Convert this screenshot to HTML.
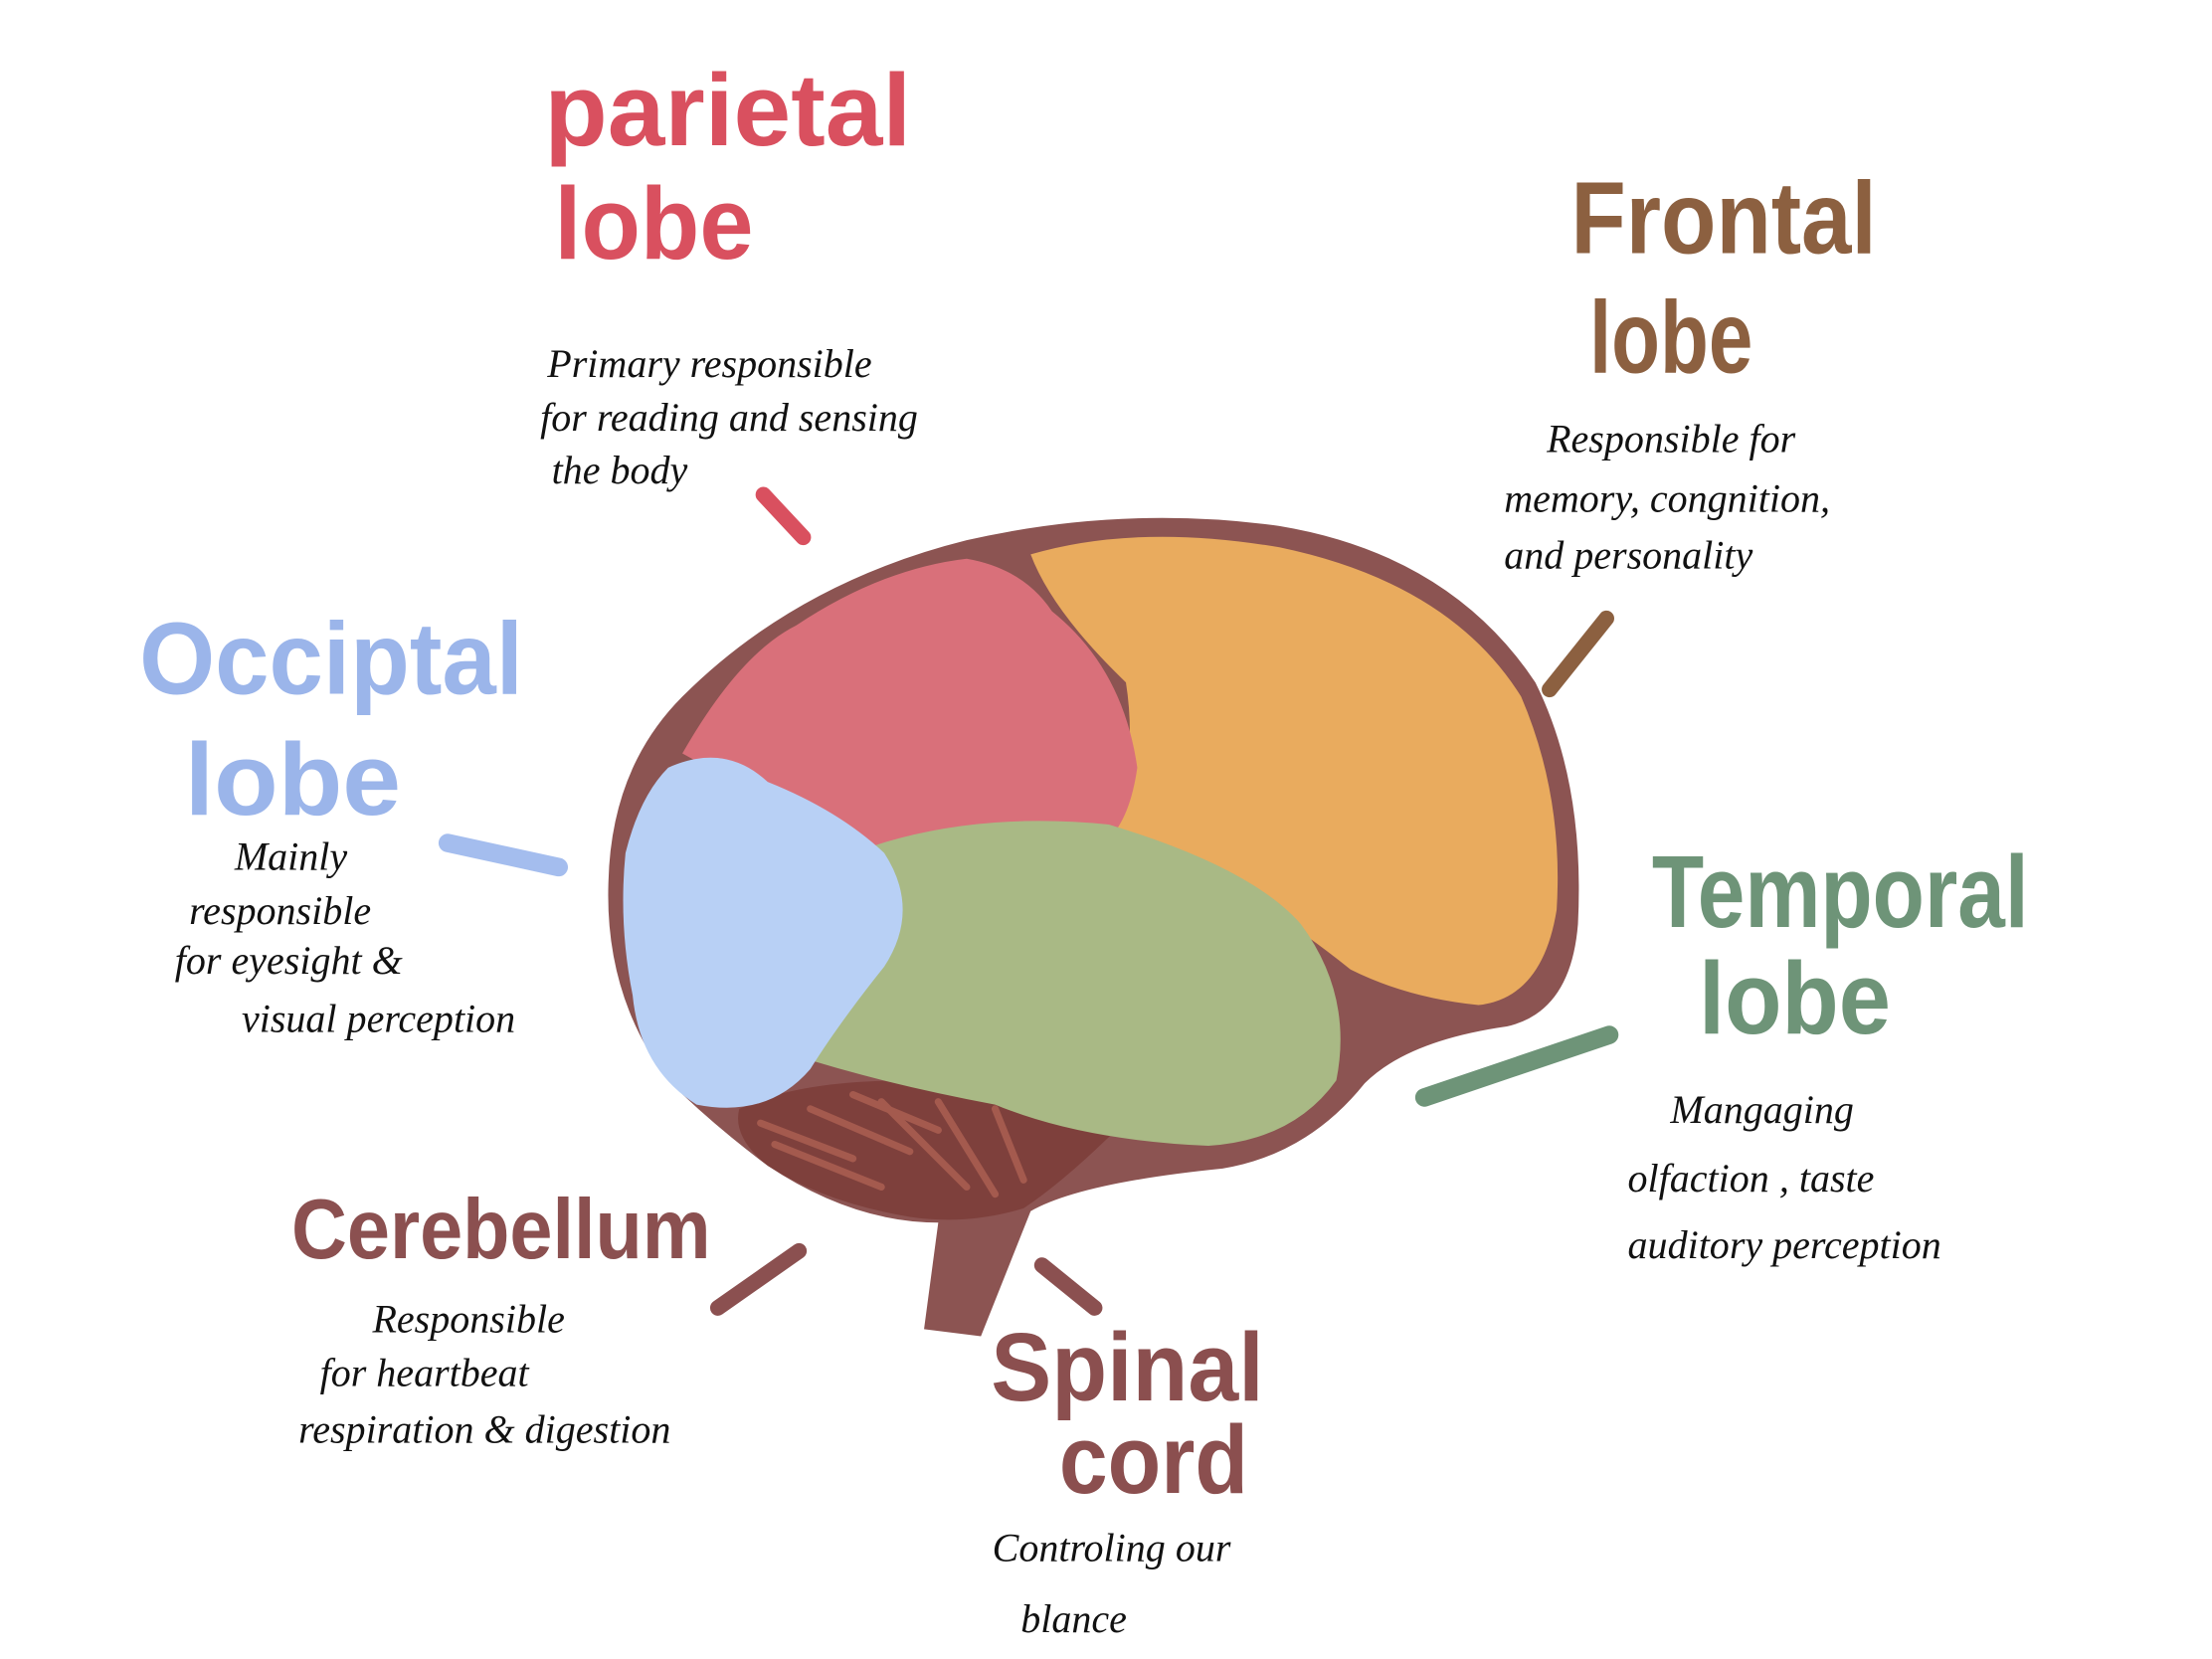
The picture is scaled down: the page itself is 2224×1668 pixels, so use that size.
<!DOCTYPE html>
<html><head><meta charset="utf-8"><style>
html,body{margin:0;padding:0;background:#fff;}
svg{display:block;}
.t{font-family:"Liberation Sans",sans-serif;font-weight:bold;}
.d{font-family:"Liberation Serif",serif;font-style:italic;font-size:28px;fill:#111;}
</style></head><body>
<svg width="2224" height="1668" viewBox="0 0 1556 1167">
<g>
<path fill="#8C5452" d="M650,935 L660,860 Q600,860 540,820 Q500,790 470,760 Q425,700 428,620 Q430,540 480,490 Q560,410 680,380 Q790,355 900,370 Q1020,390 1080,480 Q1115,550 1110,650 Q1105,712 1060,722 Q990,732 960,762 Q920,812 860,822 Q760,832 725,852 L690,940 Z"/>
<path fill="#7E403C" d="M520,780 Q560,760 640,760 Q720,770 790,790 Q750,830 720,850 Q680,862 640,856 Q580,846 540,820 Q515,800 520,780 Z"/>
<g stroke="#A45A4E" stroke-width="5" stroke-linecap="round">
<path d="M535,790 L600,815"/><path d="M545,805 L620,835"/><path d="M570,780 L640,810"/><path d="M620,775 L680,835"/><path d="M660,775 L700,840"/><path d="M700,780 L720,830"/><path d="M600,770 L660,795"/>
</g>
<path fill="#E9AB5E" d="M725,390 Q800,368 900,385 Q1020,410 1070,490 Q1100,560 1095,640 Q1085,702 1040,707 Q990,702 950,682 Q900,642 860,622 L785,587 Q800,530 792,480 Q740,430 725,390 Z"/>
<path fill="#D9707A" d="M480,530 Q520,460 560,440 Q620,400 680,393 Q720,400 740,430 Q790,470 800,540 Q795,575 780,590 Q700,588 620,597 Q570,582 520,552 Z"/>
<path fill="#A9B985" d="M600,600 Q680,570 780,580 Q880,610 915,650 Q952,700 940,760 Q910,802 850,806 Q760,802 700,777 Q620,762 558,742 Q555,700 590,670 Q640,640 600,600 Z"/>
<path fill="#B8D0F5" d="M470,540 Q510,522 540,550 Q590,570 622,600 Q648,640 622,680 Q590,720 570,752 Q540,787 490,777 Q450,752 445,700 Q435,650 440,600 Q450,560 470,540 Z"/>
</g>
<g stroke-linecap="round" fill="none">
<line x1="537" y1="348" x2="565" y2="378" stroke="#D9505F" stroke-width="11"/>
<line x1="1130" y1="435" x2="1090" y2="485" stroke="#8C6040" stroke-width="11"/>
<line x1="315" y1="593" x2="393" y2="610" stroke="#A4BDEE" stroke-width="13"/>
<line x1="1002" y1="772" x2="1132" y2="728" stroke="#6E9478" stroke-width="13"/>
<line x1="505" y1="920" x2="562" y2="880" stroke="#8B5050" stroke-width="11"/>
<line x1="733" y1="890" x2="770" y2="920" stroke="#8B5050" stroke-width="11"/>
</g>
<g>
<text class="t" x="383" y="102" font-size="72" fill="#D9505F" textLength="258" lengthAdjust="spacingAndGlyphs">parietal</text>
<text class="t" x="390" y="182" font-size="72" fill="#D9505F" textLength="140" lengthAdjust="spacingAndGlyphs">lobe</text>
<text class="d" x="385" y="265">Primary responsible</text>
<text class="d" x="380" y="303">for reading and sensing</text>
<text class="d" x="388" y="340">the body</text>
</g>
<g>
<text class="t" x="1105" y="178" font-size="72" fill="#8C6040" textLength="215" lengthAdjust="spacingAndGlyphs">Frontal</text>
<text class="t" x="1118" y="262" font-size="72" fill="#8C6040" textLength="115" lengthAdjust="spacingAndGlyphs">lobe</text>
<text class="d" x="1088" y="318">Responsible  for</text>
<text class="d" x="1058" y="360">memory, congnition,</text>
<text class="d" x="1058" y="400">and  personality</text>
</g>
<g>
<text class="t" x="98" y="488" font-size="72" fill="#9BB5EA" textLength="270" lengthAdjust="spacingAndGlyphs">Occiptal</text>
<text class="t" x="130" y="573" font-size="72" fill="#9BB5EA" textLength="152" lengthAdjust="spacingAndGlyphs">lobe</text>
<text class="d" x="165" y="612">Mainly</text>
<text class="d" x="133" y="650">responsible</text>
<text class="d" x="123" y="685">for eyesight &amp;</text>
<text class="d" x="170" y="726">visual perception</text>
</g>
<g>
<text class="t" x="1162" y="652" font-size="72" fill="#6E9478" textLength="265" lengthAdjust="spacingAndGlyphs">Temporal</text>
<text class="t" x="1195" y="727" font-size="72" fill="#6E9478" textLength="135" lengthAdjust="spacingAndGlyphs">lobe</text>
<text class="d" x="1175" y="790">Mangaging</text>
<text class="d" x="1145" y="838">olfaction , taste</text>
<text class="d" x="1145" y="885">auditory perception</text>
</g>
<g>
<text class="t" x="205" y="885" font-size="60" fill="#8B5050" textLength="295" lengthAdjust="spacingAndGlyphs">Cerebellum</text>
<text class="d" x="262" y="937">Responsible</text>
<text class="d" x="225" y="975">for heartbeat</text>
<text class="d" x="210" y="1015">respiration &amp; digestion</text>
</g>
<g>
<text class="t" x="697" y="985" font-size="68" fill="#8B4F4F" textLength="192" lengthAdjust="spacingAndGlyphs">Spinal</text>
<text class="t" x="745" y="1050" font-size="68" fill="#8B4F4F" textLength="133" lengthAdjust="spacingAndGlyphs">cord</text>
<text class="d" x="698" y="1098">Controling  our</text>
<text class="d" x="718" y="1148">blance</text>
</g>
</svg>
</body></html>
